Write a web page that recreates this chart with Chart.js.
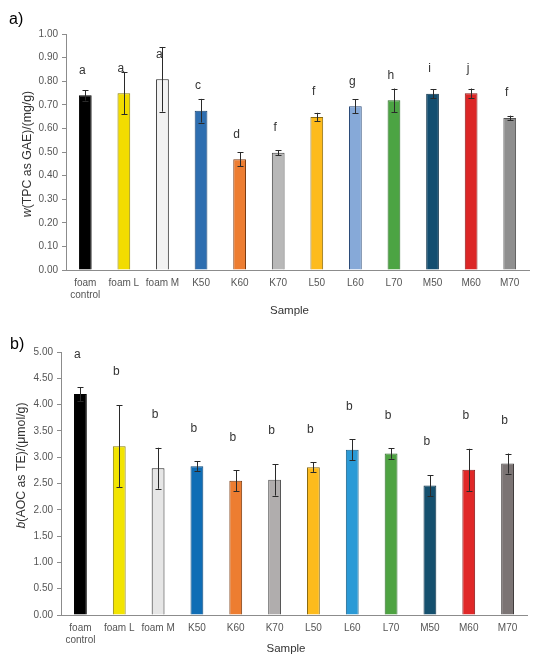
<!DOCTYPE html>
<html>
<head>
<meta charset="utf-8">
<script src="https://cdn.jsdelivr.net/npm/chart.js@4.4.1/dist/chart.umd.min.js"></script>
<style>
  html, body { margin: 0; padding: 0; background: #fff; }
  #wrap { position: relative; width: 540px; height: 667px; }
  canvas { position: absolute; left: 0; }
  #tpcChart { top: 0; }
  #aocChart { top: 330px; }
</style>
</head>
<body>
<div id="wrap">
  <canvas id="tpcChart" width="540" height="330"></canvas>
  <canvas id="aocChart" width="540" height="337"></canvas>
</div>
<script>
const categories = [["foam", "control"], "foam L", "foam M", "K50", "K60", "K70", "L50", "L60", "L70", "M50", "M60", "M70"];

// a) total phenolic content
const tpcValues = [0.740, 0.749, 0.808, 0.675, 0.469, 0.497, 0.648, 0.694, 0.719, 0.747, 0.749, 0.644];
const tpcErrors = [0.022, 0.088, 0.137, 0.050, 0.030, 0.010, 0.018, 0.030, 0.050, 0.020, 0.020, 0.010];
const tpcLetters = ["a", "a", "a", "c", "d", "f", "f", "g", "h", "i", "j", "f"];
const tpcColors = ["#000000", "#f2dc00", "#f2f2f2", "#2e6eb0", "#ed7d31", "#b8b8b8", "#fdbb1c", "#86a9d8", "#4ca443", "#134e70", "#dc2626", "#8f8f8f"];
const tpcBorders = ["#000000", "#8a7d00", "#222222", "#1c4570", "#7a3a10", "#444444", "#8a6a10", "#2a4a78", "#2d6a28", "#0b3048", "#8a1818", "#555555"];

// b) antioxidant capacity
const aocValues = [4.20, 3.21, 2.79, 2.83, 2.55, 2.57, 2.81, 3.14, 3.07, 2.46, 2.76, 2.88];
const aocErrors = [0.13, 0.78, 0.39, 0.09, 0.20, 0.30, 0.09, 0.20, 0.10, 0.20, 0.40, 0.19];
const aocLetters = ["a", "b", "b", "b", "b", "b", "b", "b", "b", "b", "b", "b"];
const aocColors = ["#000000", "#f2e400", "#e6e6e6", "#0f6db5", "#ed7d31", "#b0adad", "#fdbb1c", "#2b9ad6", "#4ea342", "#15506e", "#e02828", "#7b7474"];
const aocBorders = ["#000000", "#8a7d00", "#222222", "#0a4578", "#7a3a10", "#555555", "#8a6a10", "#17608a", "#2d6a28", "#0b3048", "#8a1818", "#3e3a3a"];

const tickFont = { family: "'Liberation Sans', Arial, sans-serif", size: 10 };

const annotate = {
  id: "annotate",
  afterDatasetsDraw(chart, args, o) {
    const ctx = chart.ctx;
    const y = chart.scales.y;
    const area = chart.chartArea;
    const bars = chart.getDatasetMeta(0).data;
    ctx.save();
    // error bars
    ctx.strokeStyle = "#2a2a2a";
    ctx.lineWidth = 1;
    bars.forEach((bar, i) => {
      const v = o.values[i], e = o.errors[i];
      const top = y.getPixelForValue(v + e), bot = y.getPixelForValue(v - e);
      const cx = Math.round(bar.x) + 0.5;
      ctx.beginPath();
      ctx.moveTo(cx, top); ctx.lineTo(cx, bot);
      ctx.moveTo(cx - 3, Math.round(top) + 0.5); ctx.lineTo(cx + 3, Math.round(top) + 0.5);
      ctx.moveTo(cx - 3, Math.round(bot) + 0.5); ctx.lineTo(cx + 3, Math.round(bot) + 0.5);
      ctx.stroke();
    });
    // significance letters
    ctx.fillStyle = "#333";
    ctx.font = "12px 'Liberation Sans', Arial, sans-serif";
    ctx.textAlign = "center";
    ctx.textBaseline = "middle";
    bars.forEach((bar, i) => {
      const ref = o.letterFromError ? o.values[i] + o.errors[i] : o.values[i];
      ctx.fillText(o.letters[i], bar.x - 3, y.getPixelForValue(ref) - o.letterGap);
    });
    // panel label
    ctx.fillStyle = "#000";
    ctx.font = "16px 'Liberation Sans', Arial, sans-serif";
    ctx.textAlign = "left";
    ctx.fillText(o.panel, o.panelX, o.panelY);
    // x title
    ctx.fillStyle = "#333";
    ctx.font = "11.5px 'Liberation Sans', Arial, sans-serif";
    ctx.textAlign = "center";
    ctx.fillText("Sample", (area.left + area.right) / 2 - 8, o.xTitleY);
    // y title, first letter italic
    ctx.translate(o.yTitleX, (area.top + area.bottom) / 2 + o.yTitleShift);
    ctx.rotate(-Math.PI / 2);
    const ital = "italic 12.3px 'Liberation Sans', Arial, sans-serif";
    const norm = "12.3px 'Liberation Sans', Arial, sans-serif";
    ctx.font = ital;
    const w1 = ctx.measureText(o.yItalic).width;
    ctx.font = norm;
    const w2 = ctx.measureText(o.yRest).width;
    const sx = -(w1 + w2) / 2;
    ctx.textAlign = "left";
    ctx.font = ital;
    ctx.fillText(o.yItalic, sx, 0);
    ctx.font = norm;
    ctx.fillText(o.yRest, sx + w1, 0);
    ctx.restore();
  }
};

function makeChart(id, values, colors, borders, yMax, yStep, pad, yWidth, xHeight, opts) {
  new Chart(document.getElementById(id), {
    type: "bar",
    data: {
      labels: categories,
      datasets: [{
        data: values,
        backgroundColor: colors,
        borderColor: borders,
        borderWidth: 1,
        barPercentage: 0.33,
        categoryPercentage: 1
      }]
    },
    options: {
      responsive: false,
      animation: false,
      devicePixelRatio: 1,
      layout: { padding: pad },
      plugins: { legend: { display: false }, tooltip: { enabled: false }, annotate: opts },
      scales: {
        x: {
          grid: { display: false, drawTicks: false },
          border: { color: "#8c8c8c" },
          ticks: { font: tickFont, color: "#555", padding: 7, maxRotation: 0, autoSkip: false },
          afterFit: (s) => { s.height = xHeight; }
        },
        y: {
          min: 0,
          max: yMax,
          grid: { drawOnChartArea: false, tickLength: 4, color: "#8c8c8c" },
          border: { color: "#8c8c8c" },
          ticks: { stepSize: yStep, font: tickFont, color: "#555", padding: 4, callback: (v) => v.toFixed(2) },
          afterFit: (s) => { s.width = yWidth; }
        }
      }
    },
    plugins: [annotate]
  });
}

makeChart("tpcChart", tpcValues, tpcColors, tpcBorders, 1.0, 0.1,
  { top: 34, right: 11, left: 0, bottom: 0 }, 66, 60,
  { values: tpcValues, errors: tpcErrors, letters: tpcLetters, letterFromError: false, letterGap: 25,
    panel: "a)", panelX: 9, panelY: 20, xTitleY: 311, yTitleX: 28, yTitleShift: 2,
    yItalic: "w", yRest: "(TPC as GAE)/(mg/g)" });

makeChart("aocChart", aocValues, aocColors, aocBorders, 5.0, 0.5,
  { top: 22, right: 13, left: 0, bottom: 0 }, 61, 52,
  { values: aocValues, errors: aocErrors, letters: aocLetters, letterFromError: true, letterGap: 33,
    panel: "b)", panelX: 10, panelY: 15, xTitleY: 319, yTitleX: 22, yTitleShift: -18,
    yItalic: "b", yRest: "(AOC as TE)/(\u03bcmol/g)" });
</script>
</body>
</html>
